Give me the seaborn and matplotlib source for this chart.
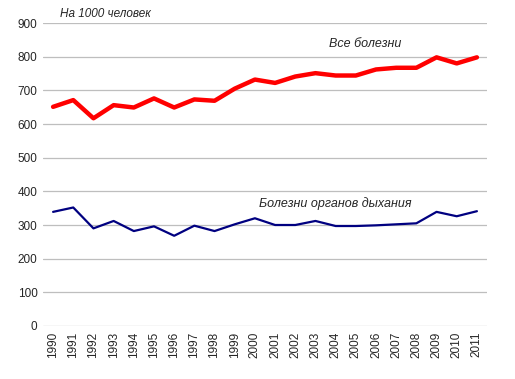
import matplotlib
matplotlib.use("Agg")
import matplotlib.pyplot as plt
import seaborn as sns
import pandas as pd

years = list(range(1990, 2012))
all_diseases = [651, 671, 617, 656, 649, 676, 649, 673, 669, 705, 732, 722,
                741, 751, 744, 744, 762, 767, 767, 798, 780, 798]
respiratory = [339, 352, 290, 312, 282, 296, 268, 298, 282, 302, 320, 300,
               300, 312, 297, 297, 299, 302, 305, 339, 326, 341]
y_ticks = [0, 100, 200, 300, 400, 500, 600, 700, 800, 900]

sns.set_theme(style="white")
plt.rcParams['font.family'] = ['Liberation Sans', 'DejaVu Sans']

df = pd.DataFrame({"year": years, "all": all_diseases, "resp": respiratory})

fig = plt.figure(figsize=(5.15, 3.79), dpi=100)
ax = fig.add_axes([43/515, 1-326/379, (487-43)/515, (326-23)/379])

sns.lineplot(data=df, x="year", y="all", ax=ax, color="#FF0000", linewidth=3.2)
sns.lineplot(data=df, x="year", y="resp", ax=ax, color="#000080", linewidth=1.6)

ax.set_xlim(1989.5, 2011.5)
ax.set_ylim(0, 900)
ax.set_yticks(y_ticks)
ax.set_xticks(years)
ax.set_xticklabels([str(y) for y in years], rotation=90, fontsize=8.5)
ax.set_yticklabels([str(v) for v in y_ticks], fontsize=8.5)
ax.tick_params(axis='both', length=0, pad=4)
ax.grid(axis='y', color="#BEBEBE", linewidth=0.9)
ax.set_axisbelow(True)
for s in ax.spines.values():
    s.set_visible(False)
ax.set_xlabel("")
ax.set_ylabel("")

fig.text(60/515, 1-14/379, "На 1000 человек", fontsize=8.5, style='italic', va='center', ha='left')
ax.text(2005.45, 838, "Все болезни", fontsize=9, style='italic', ha='center', va='center')
ax.text(2004.0, 365, "Болезни органов дыхания", fontsize=9, style='italic', ha='center', va='center')

fig.savefig("out.png", dpi=100)
